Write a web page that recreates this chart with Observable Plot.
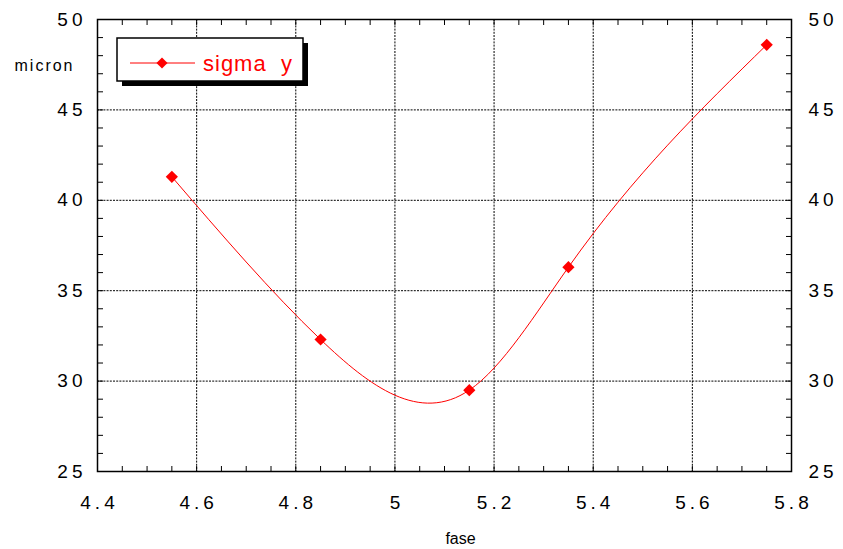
<!DOCTYPE html>
<html><head><meta charset="utf-8">
<script src="https://cdn.jsdelivr.net/npm/d3@7"></script>
<script src="https://cdn.jsdelivr.net/npm/@observablehq/plot@0.6"></script>
<style>
body{margin:0;background:#fff}
svg{font-family:"Liberation Sans",Arial,Helvetica,sans-serif}
g[aria-label="x-axis tick label"] text, g[aria-label="y-axis tick label"] text{letter-spacing:4px}
</style>
</head><body><div id="chart"></div>
<script>
const fase = [4.55, 4.85, 5.15, 5.35, 5.75];
const sigmaY = [41.3, 32.3, 29.5, 36.3, 48.6];
const xTicks = [4.4, 4.6, 4.8, 5, 5.2, 5.4, 5.6, 5.8];
const yTicks = [25, 30, 35, 40, 45, 50];
const xGrid = [4.6, 4.8, 5, 5.2, 5.4, 5.6];
const yGrid = [30, 35, 40, 45];
const xMinor = d3.range(0, 29).map(i => +(4.4 + i * 0.05).toFixed(2));
const yMinor = d3.range(25, 51);
const seriesName = "sigma  y";
const xLabel = "fase";
const yLabel = "micron";

const data = fase.map((x, i) => ({x, y: sigmaY[i]}));

// natural cubic spline y(x) (function of x, not parametric)
function curveNaturalFn(context) {
  let xs = [], ys = [];
  return {
    areaStart() {}, areaEnd() {},
    lineStart() { xs = []; ys = []; },
    point(x, y) { xs.push(+x); ys.push(+y); },
    lineEnd() {
      const n = xs.length;
      if (!n) return;
      context.moveTo(xs[0], ys[0]);
      if (n === 2) { context.lineTo(xs[1], ys[1]); return; }
      const h = [];
      for (let i = 0; i < n - 1; i++) h.push(xs[i + 1] - xs[i]);
      const a = [], b = [], c = [], r = [];
      for (let i = 1; i < n - 1; i++) {
        a.push(h[i - 1]); b.push(2 * (h[i - 1] + h[i])); c.push(h[i]);
        r.push(6 * ((ys[i + 1] - ys[i]) / h[i] - (ys[i] - ys[i - 1]) / h[i - 1]));
      }
      const m = r.length;
      for (let i = 1; i < m; i++) { const w = a[i] / b[i - 1]; b[i] -= w * c[i - 1]; r[i] -= w * r[i - 1]; }
      const sol = new Array(m);
      sol[m - 1] = r[m - 1] / b[m - 1];
      for (let i = m - 2; i >= 0; i--) sol[i] = (r[i] - c[i] * sol[i + 1]) / b[i];
      const M = [0, ...sol, 0];
      for (let i = 0; i < n - 1; i++) {
        const hi = h[i], d = (ys[i + 1] - ys[i]) / hi;
        const s0 = d - hi * (2 * M[i] + M[i + 1]) / 6;
        const s1 = d + hi * (M[i] + 2 * M[i + 1]) / 6;
        context.bezierCurveTo(xs[i] + hi / 3, ys[i] + s0 * hi / 3, xs[i + 1] - hi / 3, ys[i + 1] - s1 * hi / 3, xs[i + 1], ys[i + 1]);
      }
    }
  };
}

const gridStyle = {stroke: "black", strokeOpacity: 1, strokeDasharray: "2,1.2"};

const chart = Plot.plot({
  width: 843,
  height: 549,
  marginLeft: 97,
  marginRight: 52,
  marginTop: 19,
  marginBottom: 78,
  x: {domain: [4.4, 5.8]},
  y: {domain: [25, 50]},
  marks: [
    Plot.gridX(xGrid, gridStyle),
    Plot.gridY(yGrid, gridStyle),
    Plot.axisX({anchor: "bottom", ticks: xTicks, tickSize: 0, tickPadding: 24, fontSize: 19, tickFormat: d => String(d), label: null, dx: 2}),
    Plot.axisX({anchor: "bottom", ticks: xMinor, tickSize: -5, text: null, label: null}),
    Plot.axisX({anchor: "top", ticks: xMinor, tickSize: -5, text: null, label: null}),
    Plot.axisY({anchor: "left", ticks: yTicks, tickSize: 0, tickPadding: 15, fontSize: 19, label: null, dx: 4}),
    Plot.axisY({anchor: "right", ticks: yTicks, tickSize: 0, tickPadding: 17, fontSize: 19, label: null}),
    Plot.axisY({anchor: "left", ticks: yMinor, tickSize: -6, text: null, label: null}),
    Plot.axisY({anchor: "right", ticks: yMinor, tickSize: -6, text: null, label: null}),
    Plot.frame({stroke: "black", strokeWidth: 1.5}),
    Plot.line(data, {x: "x", y: "y", stroke: "#ff0000", strokeWidth: 1, curve: curveNaturalFn}),
    Plot.dot(data, {x: "x", y: "y", symbol: "diamond2", r: 5.5, fill: "#ff0000", stroke: "none"}),
    Plot.text([xLabel], {text: d => d, frameAnchor: "bottom", dx: 16, dy: 72, lineAnchor: "bottom", fontSize: 16, fill: "black"}),
    Plot.text([yLabel], {text: d => d, frameAnchor: "top-left", dx: -83, dy: 51, lineAnchor: "bottom", textAnchor: "start", fontSize: 16, fill: "black"})
  ]
});
document.getElementById("chart").appendChild(chart);

const svg = d3.select(chart);
svg.selectAll("text").filter(function() { return this.textContent === yLabel; })
  .attr("letter-spacing", "2px").style("letter-spacing", "2px");

// legend
const lg = svg.append("g").attr("class", "legend");
const lx = 117, ly = 38, lw = 186, lh = 43;
lg.append("rect").attr("x", lx + 5).attr("y", ly + 5).attr("width", lw).attr("height", lh).attr("fill", "black");
lg.append("rect").attr("x", lx).attr("y", ly).attr("width", lw).attr("height", lh).attr("fill", "white").attr("stroke", "black").attr("stroke-width", 1.5);
lg.append("line").attr("x1", 130).attr("x2", 195).attr("y1", 63).attr("y2", 63).attr("stroke", "#ff0000").attr("stroke-width", 1);
lg.append("path").attr("transform", "translate(162,63)").attr("d", d3.symbol(d3.symbolDiamond2, Math.PI * 5 * 5)()).attr("fill", "#ff0000");
lg.append("text").attr("x", 203).attr("y", 71).attr("fill", "#ff0000").attr("font-size", 22).attr("text-anchor", "start").style("white-space", "pre").style("letter-spacing", "1px").attr("xml:space", "preserve").text(seriesName);
</script>
</body></html>
